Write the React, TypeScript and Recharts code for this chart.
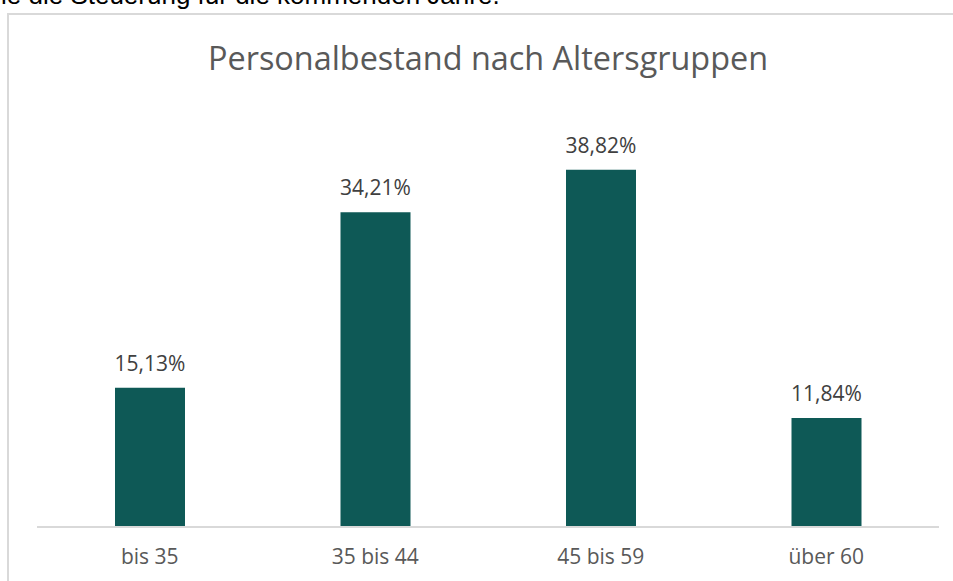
import { BarChart, Bar, XAxis, YAxis, LabelList } from 'recharts';

const categories = ['bis 35', '35 bis 44', '45 bis 59', 'über 60'];
const shares = [15.13, 34.21, 38.82, 11.84];

const data = categories.map((name, i) => ({ name, share: shares[i] }));

const formatPercent = (value: number) => `${value.toFixed(2).replace('.', ',')}%`;

export default function App() {
  return (
    <div style={{ position: 'fixed', left: 0, top: 0, width: 953, height: 581, overflow: 'hidden', background: '#fff' }}>
      {/* cut-off line of body text above the chart */}
      <div
        style={{
          position: 'absolute',
          left: 1,
          top: -18,
          fontFamily: '"Liberation Sans", Arial, sans-serif',
          fontSize: 26,
          lineHeight: '26px',
          color: '#000',
          whiteSpace: 'nowrap',
        }}
      >
        ie die Steuerung für die kommenden Jahre.
      </div>
      <div style={{ position: 'absolute', left: 7, top: 13, width: 980, height: 620, border: '2px solid #d9d9d9' }} />
      <div
        style={{
          position: 'absolute',
          left: 0,
          top: 35,
          width: 976,
          textAlign: 'center',
          fontFamily: '"Open Sans", sans-serif',
          fontSize: 32.4,
          color: '#595959',
        }}
      >
        Personalbestand nach Altersgruppen
      </div>
      <div style={{ position: 'absolute', left: 0, top: 0 }}>
        <BarChart width={953} height={581} data={data} margin={{ top: 113, right: 14, left: 37, bottom: 24 }} barSize={70}>
          <XAxis
            dataKey="name"
            axisLine={{ stroke: '#d9d9d9', strokeWidth: 2 }}
            tickLine={false}
            tickMargin={16}
            tick={{ fill: '#595959', fontSize: 21, fontFamily: '"Open Sans", sans-serif' }}
          />
          <YAxis hide domain={[0, 45]} />
          <Bar dataKey="share" fill="#0e5956" isAnimationActive={false}>
            <LabelList
              dataKey="share"
              position="top"
              offset={17}
              formatter={(v: any) => formatPercent(Number(v))}
              style={{ fill: '#404040', fontSize: 21, fontFamily: '"Open Sans", sans-serif' }}
            />
          </Bar>
        </BarChart>
      </div>
    </div>
  );
}
